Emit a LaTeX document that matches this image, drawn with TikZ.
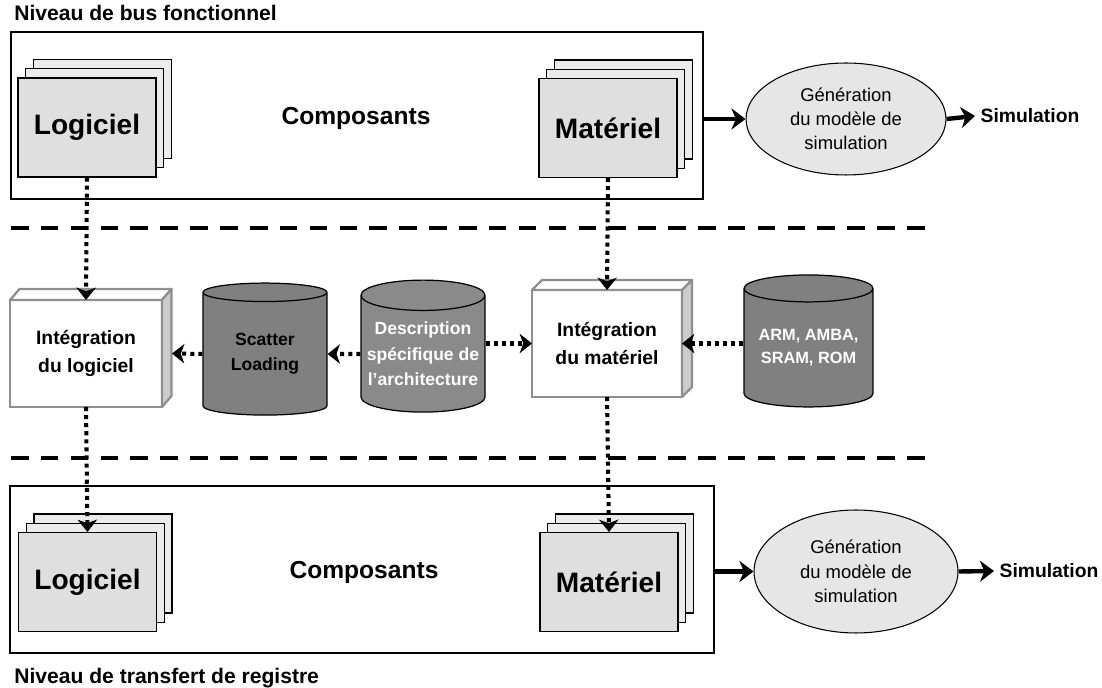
\documentclass[tikz,border=0pt]{standalone}
\usepackage{fontspec}
\setmainfont{Liberation Sans}
\usetikzlibrary{shapes.geometric,arrows.meta}

\definecolor{pagefront}{HTML}{DFDFDF}
\definecolor{pageback}{HTML}{EBEBEB}
\definecolor{genfill}{HTML}{E6E6E6}
\definecolor{boxline}{HTML}{8F8F8F}
\definecolor{boxside}{HTML}{CCCCCC}
\definecolor{dbdark}{HTML}{808080}
\definecolor{dblight}{HTML}{8A8A8A}

\tikzset{
  title/.style={anchor=west, inner sep=0pt, font=\bfseries\fontsize{12}{14}\selectfont},
  levelframe/.style={draw, line width=0.9pt, minimum height=3.34cm, inner sep=0pt},
  pages/.style={draw, line width=0.6pt, fill=pagefront, inner sep=0pt,
    minimum width=2.76cm, minimum height=1.98cm,
    font=\bfseries\fontsize{16}{19}\selectfont,
    preaction={draw, line width=0.6pt, fill=pageback,
      transform canvas={shift={(0.31cm,0.37cm)}}},
    preaction={draw, line width=0.6pt, fill=pageback,
      transform canvas={shift={(0.155cm,0.185cm)}}}},
  comp/.style={font=\bfseries\fontsize{14}{17}\selectfont},
  genbox/.style={ellipse, draw, line width=0.6pt, fill=genfill, inner sep=0pt,
    align=center, font=\fontsize{10.5}{13.8}\selectfont},
  simlabel/.style={inner sep=3pt, font=\bfseries\fontsize{11}{13}\selectfont},
  intbox/.style={draw=boxline, line width=1.3pt, fill=white, outer sep=0pt,
    minimum height=2.14cm, align=center,
    font=\bfseries\fontsize{11}{16}\selectfont},
  face/.style={draw=boxline, line width=1.3pt, line join=round, fill=white},
  db/.style={cylinder, shape border rotate=90, aspect=0.27, draw, line width=0.7pt,
    inner sep=0pt, minimum width=2.48cm, minimum height=2.64cm, align=center,
    font=\bfseries\fontsize{10}{14}\selectfont},
  sepline/.style={line width=2.8pt, dash pattern=on 10pt off 7pt},
  flow/.style={line width=2.5pt, -{Stealth[length=8pt,width=12pt,inset=2.5pt]}},
  dotflow/.style={line width=2.3pt, dash pattern=on 2.3pt off 2.3pt,
    -{Stealth[length=7pt,width=11pt,inset=2pt]}}
}

\begin{document}
\begin{tikzpicture}[x=0.02cm, y=-0.02cm]
  \useasboundingbox (0,0) rectangle (1102,688);

  % niveau de bus fonctionnel
  \node (busT) at (14,13) [title] {Niveau de bus fonctionnel};
  \node (frameT) at (357,115.5) [levelframe, minimum width=13.84cm] {};
  \node (logT) at (87,127.5) [pages] {Logiciel};
  \node (compT) at (356,118) [comp] {Composants};
  \node (matT) at (608,128) [pages] {Matériel};
  \node (genT) at (846,119)
    [genbox, minimum width=4cm, minimum height=2.24cm]
    {Génération\\du modèle de\\simulation};
  \node (simT) at (1030,116) [simlabel] {Simulation};

  \draw[sepline] (11,228) -- (926,228);
  \draw[sepline] (11,458) -- (926,458);

  % integration
  \node (intL) at (86,353.5) [intbox, minimum width=3.04cm]
    {Intégration\\du logiciel};
  \draw[face] (intL.north west) -- ++(0.19cm,0.22cm)
    -- ([shift={(0.19cm,0.22cm)}]intL.north east) -- (intL.north east) -- cycle;
  \draw[face, fill=boxside] (intL.north east) -- ++(0.19cm,0.22cm)
    -- ([shift={(0.19cm,0.22cm)}]intL.south east) -- (intL.south east) -- cycle;

  \node (scat) at (265,354) [db, fill=dbdark] {Scatter\\Loading};
  \node (desc) at (423,354)
    [db, fill=dblight, text=white, font=\bfseries\fontsize{10}{14.5}\selectfont]
    {Description\\spécifique de\\l’architecture};

  \node (intM) at (607,343.5) [intbox, minimum width=3cm]
    {Intégration\\du matériel};
  \draw[face] (intM.north west) -- ++(0.2cm,0.2cm)
    -- ([shift={(0.2cm,0.2cm)}]intM.north east) -- (intM.north east) -- cycle;
  \draw[face, fill=boxside] (intM.north east) -- ++(0.2cm,0.2cm)
    -- ([shift={(0.2cm,0.2cm)}]intM.south east) -- (intM.south east) -- cycle;

  \node (arm) at (808.5,348)
    [db, fill=dbdark, minimum width=2.58cm, text=white,
     font=\bfseries\fontsize{9.3}{13}\selectfont]
    {ARM, AMBA,\\SRAM, ROM};

  % niveau de transfert de registre
  \node (frameB) at (362,569.5) [levelframe, minimum width=14.08cm] {};
  \node (logB) at (87.5,582) [pages] {Logiciel};
  \node (compB) at (364,572) [comp] {Composants};
  \node (matB) at (609,582) [pages] {Matériel};
  \node (genB) at (856,571.5)
    [genbox, minimum width=4.08cm, minimum height=2.46cm]
    {Génération\\du modèle de\\simulation};
  \node (simB) at (1049,571) [simlabel] {Simulation};
  \node (rtlT) at (14,678) [title] {Niveau de transfert de registre};

  % fleches
  \draw[dotflow] (logT.south) -- (intL.north);
  \draw[dotflow] (matT.south) -- (intM.north);
  \draw[dotflow] (intL.south) -- (logB.north);
  \draw[dotflow] (intM.south) -- (matB.north);
  \draw[dotflow] (scat.west) -- ([xshift=0.2cm]intL.east);
  \draw[dotflow] (desc.west) -- (scat.east);
  \draw[dotflow] (desc.east |- intM.west) -- (intM.west);
  \draw[dotflow] (arm.west |- intM.east) -- (intM.east);
  \draw[flow] (frameT.east |- genT.west) -- (genT.west);
  \draw[flow] (genT.east) -- (simT.west);
  \draw[flow] (frameB.east |- genB.west) -- (genB.west);
  \draw[flow] (genB.east) -- (simB.west);
\end{tikzpicture}
\end{document}
